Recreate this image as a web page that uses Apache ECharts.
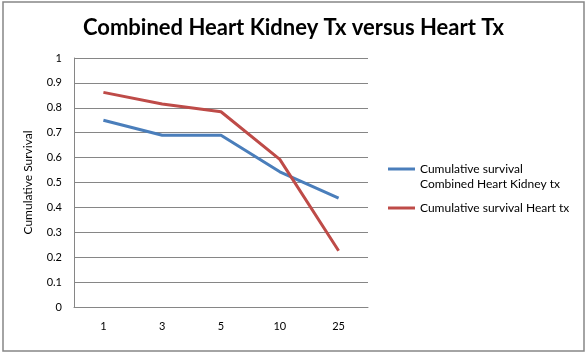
<!DOCTYPE html>
<html>
<head>
<meta charset="utf-8">
<script src="https://cdn.jsdelivr.net/npm/echarts@6/dist/echarts.min.js"></script>
<style>
  html, body { margin: 0; padding: 0; background: #fff; }
  #main { width: 587px; height: 354px; }
</style>
</head>
<body>
<div id="main"></div>
<script>
// 数据
var categories = ['1', '3', '5', '10', '25'];
var heartKidney = [0.75, 0.69, 0.69, 0.543, 0.437];
var heartOnly = [0.862, 0.815, 0.784, 0.593, 0.226];
var yTicks = [0, 0.1, 0.2, 0.3, 0.4, 0.5, 0.6, 0.7, 0.8, 0.9, 1];

var nameHK = 'Cumulative survival Combined Heart Kidney tx';
var nameH = 'Cumulative survival Heart tx';

var myChart = echarts.init(document.getElementById('main'));
var font = 'Lato, "Open Sans", sans-serif';

// 图例公共样式
function legendAt(top, name) {
  return {
    orient: 'vertical',
    left: 388,
    top: top,
    padding: 0,
    itemWidth: 27,
    itemHeight: 3,
    icon: 'rect',
    textStyle: { fontSize: 12, color: '#000', lineHeight: 14, letterSpacing: 0.3 },
    formatter: function (n) {
      return n === nameHK ? 'Cumulative survival' : n;
    },
    data: [name]
  };
}

var option = {
  animation: false,
  textStyle: { fontFamily: font },
  title: {
    text: 'Combined Heart Kidney Tx versus Heart Tx',
    left: 'center',
    top: 12,
    textStyle: { fontSize: 22, fontWeight: 'bold', color: '#000', fontFamily: font }
  },
  graphic: [{
    type: 'rect',
    shape: { x: 3, y: 2, width: 581, height: 349 },
    style: { fill: null, stroke: '#868686', lineWidth: 1.5 },
    silent: true
  }, {
    type: 'text',
    left: 420,
    top: 178,
    style: { text: 'Combined Heart Kidney tx', fontSize: 12, fontFamily: font, fill: '#000', letterSpacing: 0.3 },
    silent: true
  }],
  legend: [legendAt(162, nameHK), legendAt(201, nameH)],
  grid: { left: 74, right: 219, top: 58, bottom: 47 },
  xAxis: {
    type: 'category',
    data: categories,
    axisLine: { lineStyle: { color: '#868686' } },
    axisTick: { show: false },
    axisLabel: { color: '#000', fontSize: 11, margin: 14 }
  },
  yAxis: {
    type: 'value',
    min: 0,
    max: 1,
    interval: 0.1,
    name: 'Cumulative Survival',
    nameLocation: 'middle',
    nameGap: 40,
    nameTextStyle: { color: '#000', fontSize: 12, letterSpacing: 0.3 },
    axisLine: { show: true, lineStyle: { color: '#868686' } },
    axisTick: { show: false },
    axisLabel: {
      color: '#000', fontSize: 11, margin: 12,
      formatter: function (v) {
        var s = String(Math.round(v * 10) / 10);
        return yTicks.indexOf(Number(s)) >= 0 ? s : '';
      }
    },
    splitLine: { lineStyle: { color: '#868686' } }
  },
  series: [
    {
      name: nameHK,
      type: 'line',
      data: heartKidney,
      symbol: 'none',
      itemStyle: { color: '#4a7ebb' },
      lineStyle: { color: '#4a7ebb', width: 3 }
    },
    {
      name: nameH,
      type: 'line',
      data: heartOnly,
      symbol: 'none',
      itemStyle: { color: '#be4b48' },
      lineStyle: { color: '#be4b48', width: 3 }
    }
  ]
};

myChart.setOption(option);
</script>
</body>
</html>
